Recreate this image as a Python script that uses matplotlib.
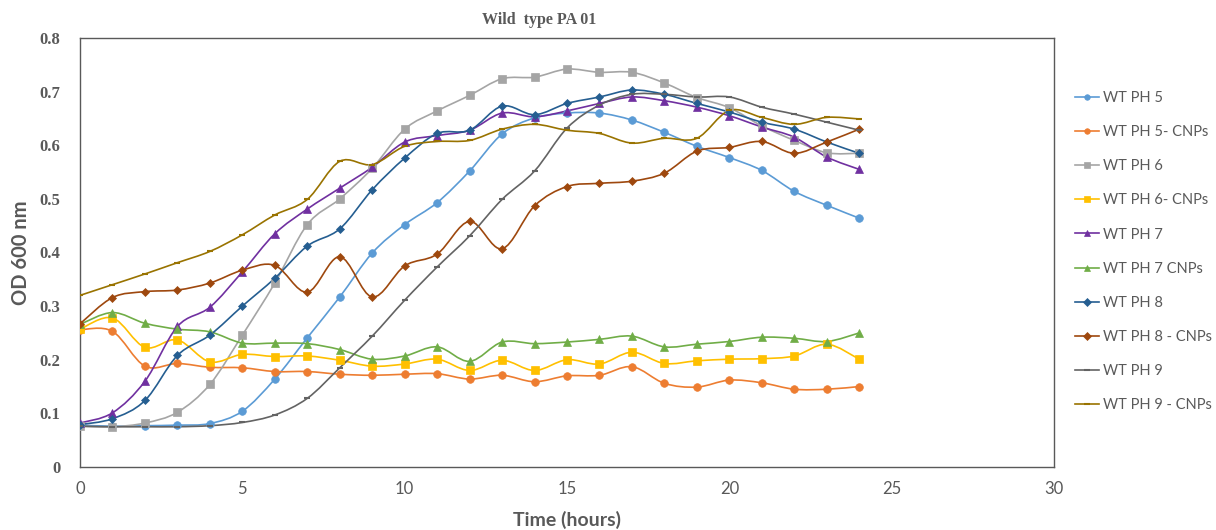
import numpy as np
import matplotlib
matplotlib.use("Agg")
import matplotlib.pyplot as plt
from matplotlib.path import Path
from matplotlib.patches import PathPatch
from matplotlib.lines import Line2D

hours = list(range(25))

wt_ph5 = [0.078, 0.076, 0.077, 0.078, 0.081, 0.104, 0.164, 0.241, 0.317, 0.399, 0.452, 0.493, 0.552,
          0.621, 0.651, 0.660, 0.660, 0.647, 0.624, 0.598, 0.577, 0.553, 0.514, 0.488, 0.464]
wt_ph5_cnps = [0.256, 0.253, 0.188, 0.193, 0.186, 0.185, 0.178, 0.178, 0.173, 0.171, 0.173, 0.174, 0.164,
               0.171, 0.159, 0.170, 0.171, 0.187, 0.156, 0.149, 0.162, 0.157, 0.145, 0.145, 0.150]
wt_ph6 = [0.076, 0.075, 0.082, 0.102, 0.154, 0.246, 0.343, 0.452, 0.500, 0.557, 0.630, 0.664, 0.693,
          0.724, 0.727, 0.742, 0.736, 0.736, 0.716, 0.689, 0.670, 0.636, 0.609, 0.586, 0.585]
wt_ph6_cnps = [0.257, 0.278, 0.223, 0.237, 0.196, 0.210, 0.206, 0.207, 0.199, 0.188, 0.192, 0.201, 0.180,
               0.199, 0.180, 0.200, 0.192, 0.214, 0.193, 0.198, 0.201, 0.202, 0.207, 0.229, 0.201]
wt_ph7 = [0.082, 0.101, 0.160, 0.262, 0.298, 0.364, 0.435, 0.481, 0.520, 0.559, 0.606, 0.618, 0.628,
          0.660, 0.653, 0.664, 0.678, 0.690, 0.683, 0.671, 0.655, 0.634, 0.615, 0.578, 0.555]
wt_ph7_cnps = [0.266, 0.288, 0.268, 0.257, 0.252, 0.231, 0.231, 0.230, 0.219, 0.201, 0.207, 0.224, 0.197,
               0.233, 0.230, 0.233, 0.238, 0.244, 0.224, 0.229, 0.234, 0.242, 0.240, 0.234, 0.250]
wt_ph8 = [0.079, 0.090, 0.124, 0.208, 0.246, 0.300, 0.352, 0.412, 0.444, 0.517, 0.576, 0.622, 0.628,
          0.673, 0.657, 0.678, 0.690, 0.703, 0.695, 0.678, 0.662, 0.643, 0.630, 0.606, 0.585]
wt_ph8_cnps = [0.267, 0.316, 0.327, 0.330, 0.343, 0.367, 0.376, 0.326, 0.392, 0.317, 0.375, 0.397, 0.458,
               0.407, 0.487, 0.523, 0.529, 0.533, 0.548, 0.589, 0.596, 0.607, 0.585, 0.606, 0.630]
wt_ph9 = [0.076, 0.075, 0.075, 0.075, 0.077, 0.083, 0.097, 0.128, 0.185, 0.244, 0.311, 0.373, 0.431,
          0.499, 0.552, 0.632, 0.675, 0.695, 0.695, 0.690, 0.690, 0.671, 0.658, 0.643, 0.628]
wt_ph9_cnps = [0.320, 0.340, 0.360, 0.381, 0.402, 0.433, 0.470, 0.499, 0.570, 0.564, 0.598, 0.607, 0.609,
               0.630, 0.639, 0.628, 0.622, 0.604, 0.613, 0.613, 0.665, 0.652, 0.639, 0.652, 0.649]

labels = ["WT PH 5", "WT PH 5- CNPs", "WT PH 6", "WT PH 6- CNPs", "WT PH 7",
          "WT PH 7 CNPs", "WT PH 8", "WT PH 8 - CNPs", "WT PH 9", "WT PH 9 - CNPs"]
series = [wt_ph5, wt_ph5_cnps, wt_ph6, wt_ph6_cnps, wt_ph7,
          wt_ph7_cnps, wt_ph8, wt_ph8_cnps, wt_ph9, wt_ph9_cnps]
colors = ["#5B9BD5", "#ED7D31", "#A5A5A5", "#FFC000", "#7030A0",
          "#70AD47", "#255E91", "#9E480E", "#636363", "#997300"]
markers = ["o", "o", "s", "s", "^", "^", "D", "D", "_", "_"]
msizes = [5.5, 5.5, 5.5, 5.5, 5.5, 5.5, 3.8, 3.8, 5, 5]


def smooth_path(x, y):
    # Excel-like smoothed line: Catmull-Rom segments as cubic Beziers
    pts = np.column_stack([x, y]).astype(float)
    n = len(pts)
    verts = [pts[0]]
    codes = [Path.MOVETO]
    for i in range(n - 1):
        p0 = pts[i - 1] if i > 0 else pts[i]
        p1 = pts[i]
        p2 = pts[i + 1]
        p3 = pts[i + 2] if i + 2 < n else pts[i + 1]
        verts += [p1 + (p2 - p0) / 6, p2 - (p3 - p1) / 6, p2]
        codes += [Path.CURVE4] * 3
    return Path(verts, codes)


fig = plt.figure(figsize=(12.16, 5.3), dpi=100)
ax = fig.add_axes([0.0658, 0.1189, 0.8010, 0.8094])

handles = []
for y, lab, c, m, ms in zip(series, labels, colors, markers, msizes):
    ax.add_patch(PathPatch(smooth_path(hours, y), fill=False, edgecolor=c, lw=1.2, zorder=2))
    ax.plot(hours, y, linestyle="none", marker=m, color=c, markersize=ms,
            markeredgewidth=1.5 if m == "_" else 0.5, zorder=3)
    handles.append(Line2D([], [], color=c, lw=1.2, marker=m, markersize=4 if m != "_" else 5,
                          markeredgewidth=1.5 if m == "_" else 0.5))

ax.set_xlim(0, 30)
ax.set_ylim(0, 0.8)
ax.set_xticks([0, 5, 10, 15, 20, 25, 30])
ax.set_yticks(np.arange(0, 0.81, 0.1))
ax.set_yticklabels(["0"] + [f"{v:.1f}" for v in np.arange(0.1, 0.81, 0.1)],
                   fontfamily="Liberation Serif", fontweight="bold", fontsize=12, color="#595959")
for t in ax.get_xticklabels():
    t.set_fontfamily("Lato")
    t.set_fontsize(12)
    t.set_color("#595959")
ax.tick_params(length=0, pad=10)
ax.tick_params(axis="y", pad=14)
for s in ax.spines.values():
    s.set_color("#595959")
    s.set_linewidth(1.0)

ax.set_xlabel("Time (hours)", fontfamily="Lato", fontweight="bold", fontsize=14,
              color="#595959", labelpad=10)
ax.set_ylabel("OD 600 nm", fontfamily="Lato", fontweight="bold", fontsize=14.5,
              color="#595959", labelpad=6)
fig.text(0.443, 0.963, "Wild  type PA 01", ha="center", va="center",
         fontfamily="Liberation Serif", fontweight="bold", fontsize=11.5, color="#595959")

fig.legend(handles, labels, loc="upper left", bbox_to_anchor=(0.873, 0.853),
           frameon=False, prop={"family": "Lato", "size": 10.5}, labelcolor="#595959",
           handlelength=1.7, handletextpad=0.25, labelspacing=1.38)

fig.savefig("out.png", dpi=100)
